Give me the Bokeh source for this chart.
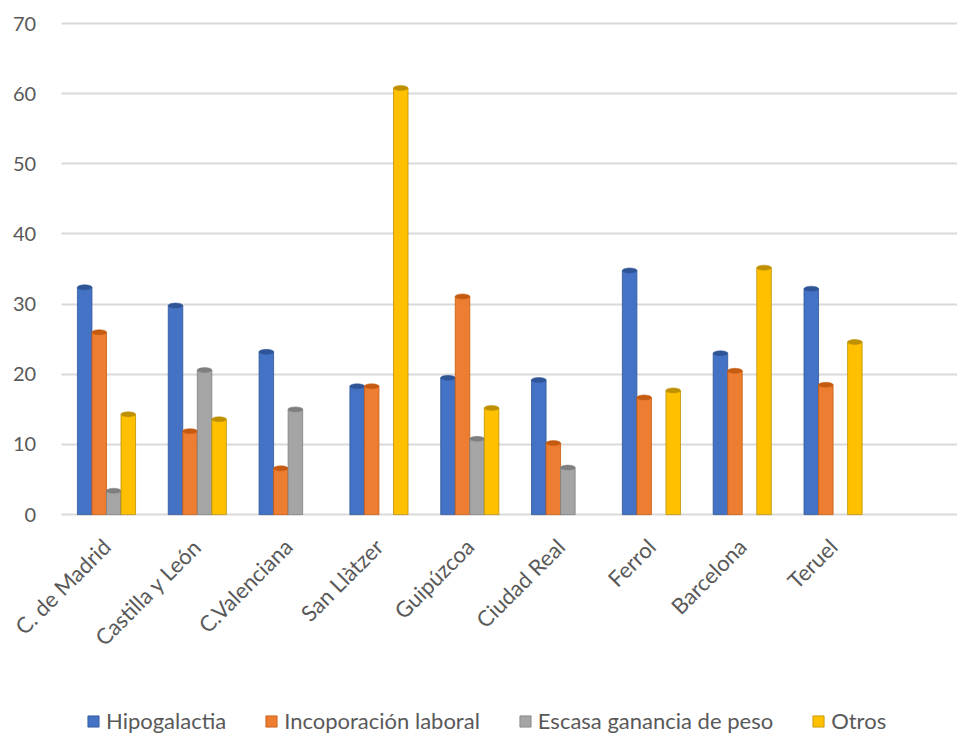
import numpy as np
from bokeh.plotting import figure
from bokeh.models import Range1d, FixedTicker, Legend, LegendItem
from bokeh.embed import file_html
from bokeh.resources import INLINE

categories = ["C. de Madrid", "Castilla y León", "C.Valenciana", "San Llàtzer",
              "Guipúzcoa", "Ciudad Real", "Ferrol", "Barcelona", "Teruel"]
series_names = ["Hipogalactia", "Incoporación laboral", "Escasa ganancia de peso", "Otros"]
hipogalactia = [32.4, 29.8, 23.2, 18.3, 19.5, 19.2, 34.8, 23.0, 32.2]
incorporacion = [26.0, 11.9, 6.6, 18.3, 31.1, 10.2, 16.7, 20.5, 18.5]
escasa = [3.4, 20.6, 15.0, None, 10.8, 6.7, None, None, None]
otros = [14.3, 13.6, None, 60.8, 15.2, None, 17.7, 35.2, 24.6]
y_ticks = [0, 10, 20, 30, 40, 50, 60, 70]

colors = ["#4472C4", "#ED7D31", "#A5A5A5", "#FFC000"]
edge = ["#2F5597", "#C55A11", "#7F7F7F", "#BF9000"]
series = [hipogalactia, incorporacion, escasa, otros]
offsets = [-0.24, -0.08, 0.08, 0.24]
bw = 0.16

FONT = "Lato"
TXT = "#595959"
X0, X1 = -1.167, 9.37
AREA_LEFT = -0.5

p = figure(width=957, height=733, output_backend="svg", toolbar_location=None,
           x_range=Range1d(X0, X1), y_range=Range1d(-31.2, 72.14),
           min_border_left=0, min_border_right=0, min_border_top=8,
           min_border_bottom=0)
p.outline_line_color = None
p.background_fill_color = "white"

p.xgrid.grid_line_color = None
p.ygrid.grid_line_color = "#D9D9D9"
p.ygrid.grid_line_width = 2
try:
    p.ygrid.cross_bounds = (AREA_LEFT, X1)
except Exception:
    p.ygrid.grid_line_color = None
    p.segment(x0=[AREA_LEFT] * len(y_ticks), x1=[X1] * len(y_ticks), y0=y_ticks, y1=y_ticks,
              line_color="#D9D9D9", line_width=2)

xs = np.arange(len(categories))
items = []
for name, vals, off, c, e in zip(series_names, series, offsets, colors, edge):
    v = np.array([np.nan if a is None else a for a in vals], dtype=float)
    r = p.vbar(x=xs + off, top=v, bottom=0, width=bw, fill_color=c, line_color=e, line_width=0.8)
    p.ellipse(x=xs + off, y=v, width=bw, height=5, height_units="screen",
              fill_color=e, line_color=e, line_width=0.5)
    items.append(LegendItem(label=name, renderers=[r]))

p.yaxis.ticker = FixedTicker(ticks=y_ticks)
p.yaxis.fixed_location = AREA_LEFT
p.xaxis.ticker = FixedTicker(ticks=list(range(len(categories))))
p.xaxis.major_label_overrides = {i: c for i, c in enumerate(categories)}
p.xaxis.major_label_orientation = np.pi / 4
p.xaxis.fixed_location = 0

for ax in (p.xaxis[0], p.yaxis[0]):
    ax.axis_line_color = None
    ax.major_tick_line_color = None
    ax.minor_tick_line_color = None
    ax.major_tick_out = 0
    ax.major_label_text_color = TXT
    ax.major_label_text_font = FONT
p.yaxis.major_label_text_font_size = "20px"
p.yaxis.major_label_standoff = 25
p.xaxis.major_label_text_font_size = "22px"
p.xaxis.major_label_standoff = 28

legend = Legend(items=items, orientation="horizontal", location=(86, -1),
                label_text_font=FONT, label_text_font_size="22px", label_text_color=TXT,
                glyph_width=14, glyph_height=14, spacing=38, border_line_color=None,
                background_fill_alpha=0, padding=2, margin=0, label_standoff=6)
p.add_layout(legend, "center")

open("out.html", "w").write(file_html(p, INLINE))
